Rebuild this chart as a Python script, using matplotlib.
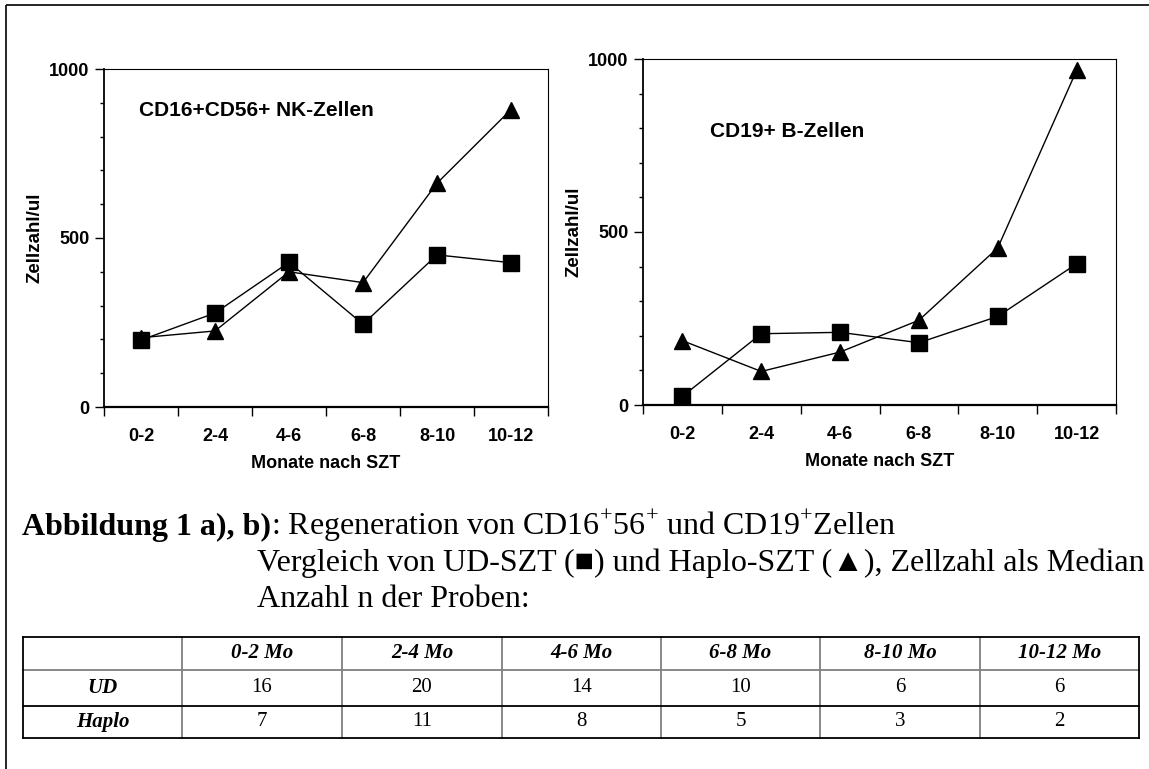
import numpy as np
import matplotlib
matplotlib.use("Agg")
from matplotlib import pyplot as plt
from matplotlib.ticker import MultipleLocator, FixedLocator, NullFormatter

plt.rcParams["font.family"] = ["Liberation Sans", "DejaVu Sans"]
plt.rcParams["mathtext.fontset"] = "custom"
plt.rcParams["mathtext.rm"] = "Liberation Serif"

# data
categories = ["0-2", "2-4", "4-6", "6-8", "8-10", "10-12"]
nk_ud = [198, 278, 428, 245, 450, 427]
nk_haplo = [205, 225, 400, 368, 662, 880]
b_ud = [25, 206, 210, 180, 256, 408]
b_haplo = [186, 97, 153, 245, 454, 967]

table_cols = ["0-2 Mo", "2-4 Mo", "4-6 Mo", "6-8 Mo", "8-10 Mo", "10-12 Mo"]
table_rows = ["UD", "Haplo"]
n_ud = [16, 20, 14, 10, 6, 6]
n_haplo = [7, 11, 8, 5, 3, 2]

W, H = 1149, 769
fig = plt.figure(figsize=(W / 100, H / 100), dpi=100)


def px_axes(x0, y0, x1, y1):
    return fig.add_axes([x0 / W, 1 - y1 / H, (x1 - x0) / W, (y1 - y0) / H])


def draw_panel(ax, ud, haplo, title, title_xy):
    x = np.arange(len(categories)) + 0.5
    ax.plot(x, haplo, color="black", lw=1.0, marker="^", ms=12, zorder=3, clip_on=False)
    ax.plot(x, ud, color="black", lw=1.0, marker="s", ms=11.5, zorder=4, clip_on=False)
    ax.set_xlim(0, len(categories))
    ax.set_ylim(0, 1000)
    ax.xaxis.set_major_locator(FixedLocator(np.arange(len(categories) + 1)))
    ax.xaxis.set_major_formatter(NullFormatter())
    ax.xaxis.set_minor_locator(FixedLocator(x))
    ax.set_xticklabels(categories, minor=True)
    ax.tick_params(axis="x", which="minor", length=0, pad=15)
    ax.tick_params(axis="x", which="major", length=6.5, width=1)
    ax.yaxis.set_major_locator(MultipleLocator(500))
    ax.yaxis.set_minor_locator(MultipleLocator(100))
    ax.tick_params(axis="y", which="major", length=6.5, width=1, pad=4)
    ax.tick_params(axis="y", which="minor", length=3, width=1)
    for lab in ax.get_xticklabels(minor=True) + ax.get_yticklabels():
        lab.set_fontweight("bold")
        lab.set_fontsize(13)
    ax.spines["bottom"].set_linewidth(1.6)
    ax.spines["left"].set_linewidth(1.3)
    ax.spines["top"].set_linewidth(0.8)
    ax.spines["right"].set_linewidth(0.8)
    ax.set_xlabel("Monate nach SZT", fontsize=13, fontweight="bold", labelpad=7)
    ax.set_ylabel("Zellzahl/ul", fontsize=13.5, fontweight="bold", labelpad=4)
    ax.text(title_xy[0], title_xy[1], title, transform=ax.transAxes,
            fontsize=15, fontweight="bold", va="center", ha="left")


ax1 = px_axes(104, 69, 548, 407)
draw_panel(ax1, nk_ud, nk_haplo, "CD16+CD56+ NK-Zellen", (0.078, 0.876))
ax2 = px_axes(643, 59, 1116, 405)
draw_panel(ax2, b_ud, b_haplo, "CD19+ B-Zellen", (0.141, 0.79))

# caption and table drawn on a pixel-coordinate overlay
ov = fig.add_axes([0, 0, 1, 1], zorder=-1)
ov.set_xlim(0, W)
ov.set_ylim(H, 0)
ov.axis("off")

ov.plot([6, 6], [5, H], color="black", lw=1.2, solid_capstyle="butt")
ov.plot([6, W], [5, 5], color="black", lw=1.2, solid_capstyle="butt")

serif = ["Liberation Serif", "DejaVu Serif"]
fs_cap = 23
renderer = fig.canvas.get_renderer()
t1 = ov.text(22, 535, "Abbildung 1 a), b)", family=serif, fontsize=fs_cap,
             fontweight="bold", va="baseline")
bb = t1.get_window_extent(renderer)
ov.text(22 + bb.width, 535, r": Regeneration von CD16$^{+}$56$^{+}$ und CD19$^{+}$Zellen",
        family=serif, fontsize=fs_cap, va="baseline")
ov.text(257, 571, "Vergleich von UD-SZT (\u25A0) und Haplo-SZT (\u25B2), Zellzahl als Median",
        family=serif, fontsize=fs_cap, va="baseline")
ov.text(257, 607, "Anzahl n der Proben:", family=serif, fontsize=fs_cap, va="baseline")

col_edges = [23, 182, 342, 502, 661, 820, 980, 1139]
row_edges = [637, 670, 706, 738]
gray = "#808080"
for xe in col_edges[1:-1]:
    ov.plot([xe, xe], [row_edges[0], row_edges[-1]], color=gray, lw=1.3)
ov.plot([col_edges[0], col_edges[-1]], [row_edges[1]] * 2, color=gray, lw=1.3)
ov.plot([col_edges[0], col_edges[-1]], [row_edges[2]] * 2, color="black", lw=1.3)
for ye in (row_edges[0], row_edges[-1]):
    ov.plot([col_edges[0], col_edges[-1]], [ye, ye], color="black", lw=1.3)
for xe in (col_edges[0], col_edges[-1]):
    ov.plot([xe, xe], [row_edges[0], row_edges[-1]], color="black", lw=1.3)

centers = [(a + b) / 2 for a, b in zip(col_edges[:-1], col_edges[1:])]
rmid = [(a + b) / 2 for a, b in zip(row_edges[:-1], row_edges[1:])]
fs_tab = 15
for c, lab in zip(centers[1:], table_cols):
    ov.text(c, rmid[0], lab, family=serif, fontsize=fs_tab, fontweight="bold",
            style="italic", ha="center", va="center")
for r, lab, vals in zip(rmid[1:], table_rows, [n_ud, n_haplo]):
    ov.text(centers[0], r, lab, family=serif, fontsize=fs_tab, fontweight="bold",
            style="italic", ha="center", va="center")
    for c, v in zip(centers[1:], vals):
        ov.text(c, r, str(v), family=serif, fontsize=fs_tab, ha="center", va="center")

fig.savefig("out.png", dpi=100)
